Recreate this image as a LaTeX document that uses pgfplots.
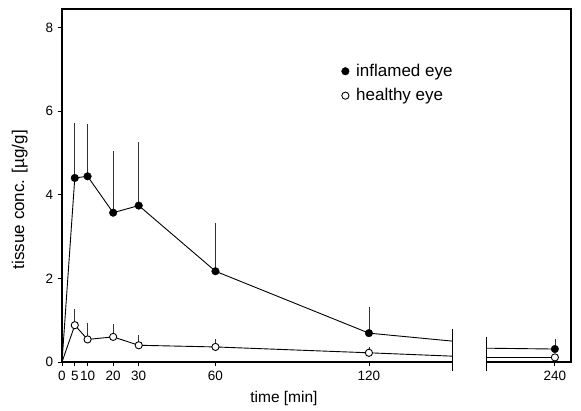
\documentclass[border=0pt]{standalone}
\usepackage{fontspec}
\setmainfont{Liberation Sans}
\usepackage{pgfplots}
\pgfplotsset{compat=1.18}
\usepackage{pgfplotstable}
\pgfplotstableread{
x y e
5 4.40 1.31
10 4.44 1.26
20 3.57 1.47
30 3.74 1.52
60 2.17 1.16
120 0.69 0.63
192.7 0.31 0.25
}\inflamed
\pgfplotstableread{
x y e
5 0.88 0.39
10 0.54 0.40
20 0.60 0.32
30 0.40 0.24
60 0.36 0.18
120 0.22 0.13
192.7 0.11 0.0
}\healthy
\begin{document}
\fontsize{14}{16}\selectfont
\begin{tikzpicture}
\begin{axis}[
  scale only axis, width=509pt, height=353pt,
  xmin=0, xmax=199, ymin=0, ymax=8.44,
  axis line style={draw=none},
  clip=false,
  tick pos=left, tick align=outside,
  major tick length=4pt,
  tick style={black, line width=0.8pt},
  tick label style={font=\fontsize{13.5}{16}\selectfont},
  xtick={0,5,10,20,30,60,120,192.7},
  xticklabels={0,5,10,20,30,60,120,240},
  ytick={0,2,4,6,8},
  /pgf/number format/assume math mode=true,
  xlabel={time [min]},
  ylabel={tissue conc. [µg/g]},
  xlabel style={at={(axis description cs:0.436,-0.07)}, anchor=north, font=\fontsize{15.5}{17}\selectfont},
  ylabel style={at={(axis description cs:-0.083,0.46)}, anchor=center, font=\fontsize{17}{19}\selectfont},
  legend style={draw=none, fill=none, at={(axis description cs:0.543,0.856)}, anchor=north west, row sep=6pt, font=\fontsize{17}{19}\selectfont},
  legend cell align=left,
]
% frame with broken bottom axis
\draw[line width=1.1pt] (axis cs:0,0) -- (axis cs:0,8.44) -- (axis cs:199,8.44) -- (axis cs:199,0) -- (axis cs:166.1,0);
\draw[line width=1.1pt] (axis cs:0,0) -- (axis cs:152.5,0);
\draw[line width=0.9pt] (axis cs:152.5,0.78) -- (axis cs:152.5,-0.22);
\draw[line width=0.9pt] (axis cs:166.1,0.59) -- (axis cs:166.1,-0.22);
% lines
\addplot[black, line width=0.9pt, forget plot] coordinates {(0,0) (5,4.40) (10,4.44) (20,3.57) (30,3.74) (60,2.17) (120,0.69) (152.5,0.50)};
\addplot[black, line width=0.9pt, forget plot] coordinates {(166.1,0.33) (192.7,0.31)};
\addplot[black, line width=0.9pt, forget plot] coordinates {(0,0) (5,0.88) (10,0.54) (20,0.60) (30,0.40) (60,0.36) (120,0.22) (152.5,0.14)};
\addplot[black, line width=0.9pt, forget plot] coordinates {(166.1,0.11) (192.7,0.11)};
% error bars + marks
\addplot[only marks, mark=*, mark size=3.8pt, black,
  error bars/.cd, y dir=plus, y explicit, error mark=none,
  error bar style={line width=0.6pt, black!80}]
  table[x=x, y=y, y error=e]{\inflamed};
\addlegendentry{\hspace{5pt}inflamed eye}
\addplot[only marks, mark=*, mark size=3.6pt, black, fill=white, mark options={fill=white, line width=0.9pt},
  error bars/.cd, y dir=plus, y explicit, error mark=none,
  error bar style={line width=0.6pt, black!80}]
  table[x=x, y=y, y error=e]{\healthy};
\addlegendentry{\hspace{5pt}healthy eye}
\end{axis}
\useasboundingbox (-62pt,-40pt) rectangle (519pt,362pt);
\end{tikzpicture}
\end{document}
